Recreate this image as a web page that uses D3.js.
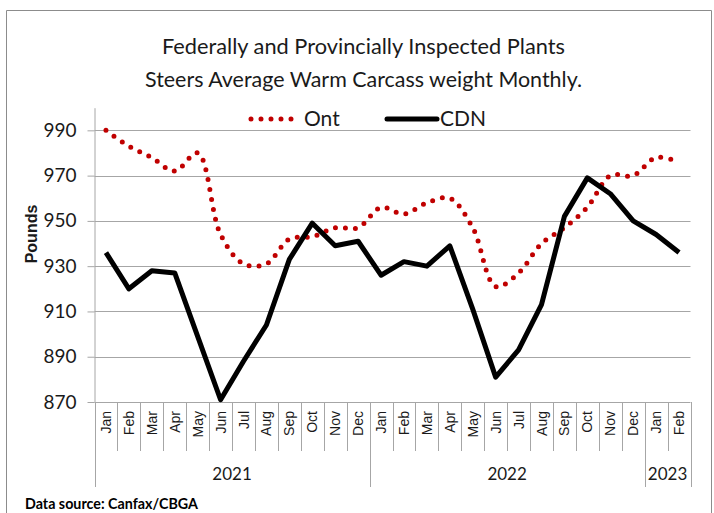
<!DOCTYPE html>
<html><head><meta charset="utf-8">
<script src="https://cdn.jsdelivr.net/npm/d3@7"></script>
<style>
html,body{margin:0;padding:0;background:#fff;}
svg{display:block;}
</style></head>
<body><svg id="c" width="714" height="513"></svg>
<script>
const months = ["Jan","Feb","Mar","Apr","May","Jun","Jul","Aug","Sep","Oct","Nov","Dec",
                "Jan","Feb","Mar","Apr","May","Jun","Jul","Aug","Sep","Oct","Nov","Dec",
                "Jan","Feb"];
const years = [{label:"2021", start:0, end:12},{label:"2022", start:12, end:24},{label:"2023", start:24, end:26}];
const ont = [990,983,978,972,980,944,931,931,942,943,947,947,
             956,953,958,960,947,921,927,940,947,956,970,970,
             978,976];
const cdn = [936,920,928,927,899,871,888,904,933,949,939,941,
             926,932,930,939,911,881,893,913,952,969,962,950,
             944,936];
const yTicks = [870,890,910,930,950,970,990];
const titleLines = ["Federally and Provincially Inspected Plants","Steers Average Warm Carcass weight Monthly."];
const titleWidths = [403, 437];

const svg = d3.select("#c");
const hum = "Lato, 'Open Sans', sans-serif";
const L = 94.5, R = 690.5, T = 107.7, B = 402;

svg.append("rect").attr("x",0).attr("y",0).attr("width",714).attr("height",513).attr("fill","#fff");
// outer border
svg.append("path").attr("d","M6.5,520 V10.5 H711.5 V520").attr("fill","none").attr("stroke","#8c8c8c").attr("stroke-width",1);

const idx = d3.range(months.length);
const xb = d3.scaleBand().domain(idx).range([L,R]).padding(0);
const xc = i => xb(i) + xb.bandwidth()/2;
const y = d3.scaleLinear().domain([870,1000]).range([B,T]);

// gridlines
svg.append("g").selectAll("line").data(yTicks.filter(v=>v>870)).join("line")
  .attr("x1",L).attr("x2",R).attr("y1",d=>Math.round(y(d))+0.5).attr("y2",d=>Math.round(y(d))+0.5)
  .attr("stroke","#a6a6a6").attr("stroke-width",1);

// y axis
const yAxis = d3.axisLeft(y).tickValues(yTicks).tickSize(7).tickPadding(11).tickSizeOuter(0);
const gy = svg.append("g").attr("transform",`translate(${L},0)`).call(yAxis);
gy.select(".domain").attr("stroke","#a6a6a6");
gy.selectAll(".tick line").attr("stroke","#a6a6a6");
gy.selectAll(".tick text").attr("font-family",hum).attr("font-size",19).attr("fill","#1a1a1a");

// x axis line
svg.append("line").attr("x1",L).attr("x2",R).attr("y1",B+0.5).attr("y2",B+0.5).attr("stroke","#a6a6a6");
// month separators
const bounds = d3.range(months.length+1);
const yearB = new Set([0,12,24,26]);
svg.append("g").selectAll("line").data(bounds).join("line")
  .attr("x1",d=>Math.round(d===months.length?R:xb(d))+0.5).attr("x2",d=>Math.round(d===months.length?R:xb(d))+0.5)
  .attr("y1",B).attr("y2",d=>yearB.has(d)?487:451)
  .attr("stroke","#a6a6a6").attr("stroke-width",1);
// month labels
svg.append("g").selectAll("text").data(idx).join("text")
  .attr("transform",i=>`translate(${xc(i)},411) rotate(-90)`)
  .attr("text-anchor","end").attr("dy","0.36em")
  .attr("font-family","'Liberation Sans',Arial,sans-serif").attr("font-size",14).attr("fill","#1a1a1a")
  .text(i=>months[i]);
// year labels
svg.append("g").selectAll("text").data(years).join("text")
  .attr("x",d=>(xb(d.start)+(d.end===months.length?R:xb(d.end)))/2).attr("y",480)
  .attr("text-anchor","middle").attr("font-family",hum).attr("font-size",17).attr("fill","#1a1a1a")
  .text(d=>d.label);

// y title
svg.append("text").attr("transform","translate(37,234) rotate(-90)").attr("text-anchor","middle")
  .attr("font-family","'Liberation Sans',Arial,sans-serif").attr("font-weight","bold").attr("font-size",16)
  .attr("fill","#1a1a1a").text("Pounds");

// title
svg.append("g").selectAll("text").data(titleLines).join("text")
  .attr("x",363.5).attr("y",(d,i)=>54+i*33).attr("text-anchor","middle")
  .attr("font-family",hum).attr("font-size",21).attr("fill","#1a1a1a")
  .attr("textLength",(d,i)=>titleWidths[i]).attr("lengthAdjust","spacingAndGlyphs")
  .text(d=>d);

// lines
const ontLine = d3.line().x((d,i)=>xc(i)).y(d=>y(d)).curve(d3.curveCatmullRom);
const cdnLine = d3.line().x((d,i)=>xc(i)).y(d=>y(d));
svg.append("path").datum(ont).attr("d",ontLine).attr("fill","none").attr("stroke","#c00000")
  .attr("stroke-width",5).attr("stroke-linecap","round").attr("stroke-dasharray","0 10");
svg.append("path").datum(cdn).attr("d",cdnLine).attr("fill","none").attr("stroke","#000")
  .attr("stroke-width",5).attr("stroke-linejoin","round");

// legend
svg.append("line").attr("x1",251).attr("x2",291.5).attr("y1",119).attr("y2",119).attr("stroke","#c00000")
  .attr("stroke-width",5).attr("stroke-linecap","round").attr("stroke-dasharray","0 10");
svg.append("text").attr("x",304).attr("y",126).attr("font-family",hum).attr("font-size",21).attr("fill","#1a1a1a").text("Ont");
svg.append("line").attr("x1",387).attr("x2",437).attr("y1",119).attr("y2",119).attr("stroke","#000")
  .attr("stroke-width",5).attr("stroke-linecap","round");
svg.append("text").attr("x",440).attr("y",126).attr("font-family",hum).attr("font-size",21).attr("fill","#1a1a1a").text("CDN");

// source
svg.append("text").attr("x",25).attr("y",509).attr("font-family",hum).attr("font-weight","bold")
  .attr("font-size",16).attr("fill","#000").attr("textLength",173).attr("lengthAdjust","spacingAndGlyphs")
  .text("Data source: Canfax/CBGA");
</script></body></html>
